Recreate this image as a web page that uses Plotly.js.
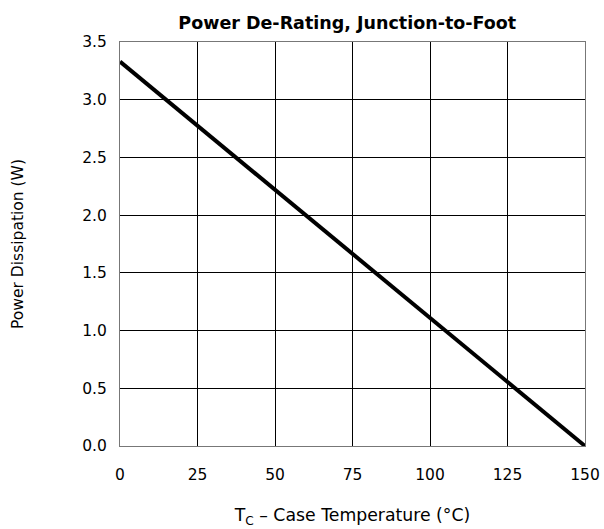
<!DOCTYPE html>
<html><head><meta charset="utf-8">
<script src="https://cdn.plot.ly/plotly-3.0.1.min.js"></script>
<style>body{margin:0;background:#fff}#c{width:604px;height:529px}</style>
</head><body><div id="c"></div>
<script>
const temperature = [0, 150];
const power = [3.33, 0];
const xTicks = [0, 25, 50, 75, 100, 125, 150];
const yTicks = [0, 0.5, 1.0, 1.5, 2.0, 2.5, 3.0, 3.5];
const yTickText = yTicks.map(v => v.toFixed(1));

const fam = 'DejaVu Sans, Arial, sans-serif';
const tickFont = {family: fam, color: '#000', size: 15.5};
Plotly.newPlot('c', [{
  x: temperature, y: power, mode: 'lines',
  line: {color: '#000', width: 4}, hoverinfo: 'skip'
}], {
  width: 604, height: 529,
  margin: {l: 120, r: 19, t: 42, b: 83},
  paper_bgcolor: '#fff', plot_bgcolor: '#fff',
  font: tickFont, showlegend: false,
  title: {text: '<b>Power De-Rating, Junction-to-Foot</b>', x: 0.575, xanchor: 'center', y: 0.957, yanchor: 'middle', font: {family: fam, size: 17.5, color: '#000'}},
  xaxis: {range: [0, 150], tickvals: xTicks, ticktext: xTicks.map(String), showgrid: true, gridcolor: '#000', gridwidth: 1,
    zeroline: false, showline: true, linecolor: '#777', linewidth: 1, mirror: true, ticks: '', ticklen: 0,
    ticklabelstandoff: 14, tickfont: tickFont,
    title: {text: 'T<sub>C</sub> – Case Temperature (°C)', standoff: 26, font: {family: fam, size: 17.3, color: '#000'}}},
  yaxis: {range: [0, 3.5], tickvals: yTicks, ticktext: yTickText, showgrid: true, gridcolor: '#000', gridwidth: 1,
    zeroline: false, showline: true, linecolor: '#777', linewidth: 1, mirror: true, ticks: '', ticklen: 0,
    ticklabelstandoff: 9, tickfont: tickFont,
    title: {text: 'Power Dissipation (W)', standoff: 54, font: {family: fam, size: 15.5, color: '#000'}}}
}, {displayModeBar: false, staticPlot: true});
</script></body></html>
